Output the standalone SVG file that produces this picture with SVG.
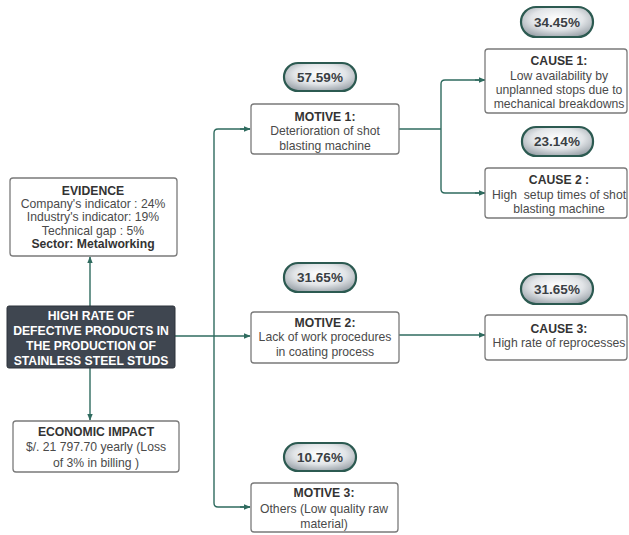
<svg xmlns="http://www.w3.org/2000/svg" width="629" height="535" viewBox="0 0 629 535">
<defs>
<radialGradient id="pg" cx="50%" cy="40%" r="65%">
<stop offset="0" stop-color="#ffffff"/>
<stop offset="0.55" stop-color="#e2e5e8"/>
<stop offset="1" stop-color="#98a0a7"/>
</radialGradient>
<marker id="ah" viewBox="0 0 10 10" refX="9" refY="5" markerWidth="7" markerHeight="7" orient="auto" markerUnits="userSpaceOnUse">
<path d="M0,1 L10,5 L0,9 Z" fill="#2f6b5f"/>
</marker>
<style>
.box{fill:#fff;stroke:#7a7a7a;stroke-width:1.3}
.dark{fill:#3f4650;stroke:#2d333a;stroke-width:1}
.pill{fill:url(#pg);stroke:#2c5a51;stroke-width:2.2}
.t{font-family:"Liberation Sans",Arial,sans-serif;font-size:12.2px;fill:#4a4a4a;text-anchor:middle;white-space:pre}
.b{font-weight:bold;fill:#333}
.w{fill:#fff;font-weight:bold;font-size:12.2px}
.p{font-family:"Liberation Sans",Arial,sans-serif;font-size:13.5px;font-weight:bold;fill:#3a3f44;text-anchor:middle}
.c{fill:none;stroke:#2f6b5f;stroke-width:1.4}
</style>
</defs>
<g id="connectors">
<path class="c" d="M90,306 V257" marker-end="url(#ah)"/>
<path class="c" d="M90,368 V420" marker-end="url(#ah)"/>
<path class="c" d="M175,336 H250" marker-end="url(#ah)"/>
<path class="c" d="M250,129 H218 Q214,129 214,133 V503 Q214,507 218,507 H250"/>
<path class="c" d="M240,129 H250" marker-end="url(#ah)"/>
<path class="c" d="M240,507 H250" marker-end="url(#ah)"/>
<path class="c" d="M399,129 H441"/>
<path class="c" d="M485,80 H445 Q441,80 441,84 V189 Q441,193 445,193 H485"/>
<path class="c" d="M475,80 H485" marker-end="url(#ah)"/>
<path class="c" d="M475,193 H485" marker-end="url(#ah)"/>
<path class="c" d="M399,335 H485" marker-end="url(#ah)"/>
</g>
<g id="evidence">
<rect class="box" x="10" y="178" width="167" height="78" rx="3"/>
<text class="t b" x="93" y="195">EVIDENCE</text>
<text class="t" x="93" y="208">Company's indicator : 24%</text>
<text class="t" x="93" y="221">Industry's indicator: 19%</text>
<text class="t" x="93" y="235">Technical gap : 5%</text>
<text class="t b" x="93" y="248">Sector: Metalworking</text>
</g>
<g id="main">
<rect class="dark" x="7" y="306" width="168" height="62" rx="2"/>
<text class="t w" x="91" y="320">HIGH RATE OF</text>
<text class="t w" x="91" y="335">DEFECTIVE PRODUCTS IN</text>
<text class="t w" x="91" y="350">THE PRODUCTION OF</text>
<text class="t w" x="91" y="365">STAINLESS STEEL STUDS</text>
</g>
<g id="impact">
<rect class="box" x="13" y="421" width="166" height="51" rx="3"/>
<text class="t b" x="96" y="436">ECONOMIC IMPACT</text>
<text class="t" x="96" y="451">$/. 21 797.70 yearly (Loss</text>
<text class="t" x="96" y="467">of 3% in billing )</text>
</g>
<g id="p1">
<rect class="pill" x="284" y="63" width="72" height="28" rx="14"/>
<text class="p" x="320" y="82">57.59%</text>
</g>
<g id="motive1">
<rect class="box" x="251" y="104" width="148" height="50" rx="3"/>
<text class="t b" x="325" y="121">MOTIVE 1:</text>
<text class="t" x="325" y="135">Deterioration of shot</text>
<text class="t" x="325" y="150">blasting machine</text>
</g>
<g id="p2">
<rect class="pill" x="284" y="263" width="72" height="29" rx="14"/>
<text class="p" x="320" y="282">31.65%</text>
</g>
<g id="motive2">
<rect class="box" x="251" y="312" width="148" height="51" rx="3"/>
<text class="t b" x="325" y="327">MOTIVE 2:</text>
<text class="t" x="325" y="341">Lack of work procedures</text>
<text class="t" x="325" y="356">in coating process</text>
</g>
<g id="p3">
<rect class="pill" x="284" y="443" width="72" height="28" rx="14"/>
<text class="p" x="320" y="462">10.76%</text>
</g>
<g id="motive3">
<rect class="box" x="251" y="483" width="147" height="49" rx="3"/>
<text class="t b" x="324" y="497">MOTIVE 3:</text>
<text class="t" x="324" y="513">Others (Low quality raw</text>
<text class="t" x="324" y="528">material)</text>
</g>
<g id="p4">
<rect class="pill" x="521" y="7" width="72" height="30" rx="15"/>
<text class="p" x="557" y="27">34.45%</text>
</g>
<g id="cause1">
<rect class="box" x="485" y="49" width="142" height="64" rx="3"/>
<text class="t b" x="559" y="65">CAUSE 1:</text>
<text class="t" x="559" y="80">Low availability by</text>
<text class="t" x="559" y="94">unplanned stops due to</text>
<text class="t" x="559" y="108">mechanical breakdowns</text>
</g>
<g id="p5">
<rect class="pill" x="522" y="127" width="71" height="29" rx="14"/>
<text class="p" x="557" y="146">23.14%</text>
</g>
<g id="cause2">
<rect class="box" x="485" y="168" width="142" height="50" rx="3"/>
<text class="t b" x="559" y="184">CAUSE 2 :</text>
<text class="t" x="559" y="199">High  setup times of shot</text>
<text class="t" x="559" y="213">blasting machine</text>
</g>
<g id="p6">
<rect class="pill" x="521" y="274" width="72" height="30" rx="15"/>
<text class="p" x="557" y="294">31.65%</text>
</g>
<g id="cause3">
<rect class="box" x="485" y="315" width="142" height="45" rx="3"/>
<text class="t b" x="559" y="333">CAUSE 3:</text>
<text class="t" x="559" y="347">High rate of reprocesses</text>
</g>
</svg>
